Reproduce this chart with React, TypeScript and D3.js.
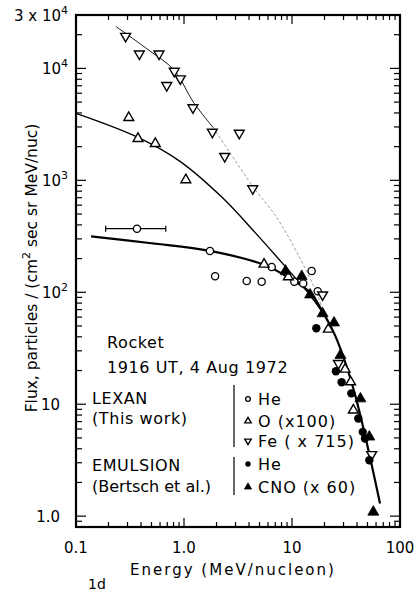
import React from "react";
import * as d3 from "d3";

type Pt = [number, number]; // [energy MeV/nucleon, flux]

// LEXAN (this work)
const heLexan: Pt[] = [
  [0.367, 370], [1.74, 234], [1.94, 139], [3.81, 126], [5.24, 124],
  [6.49, 168], [10.5, 124], [12.7, 120], [15.2, 155], [17.3, 102],
];
const heErrorBar: Pt = [0.188, 0.678]; // energy span of the first He bin
const oLexan: Pt[] = [
  [0.308, 3630], [0.375, 2360], [0.542, 2130], [1.04, 1010], [5.51, 178],
  [9.25, 137], [21.7, 46.7], [31.0, 20.5], [34.9, 15.8], [37.0, 8.84],
];
const feLexan: Pt[] = [
  [0.288, 19400], [0.386, 13500], [0.587, 13500], [0.813, 9460], [0.925, 8090],
  [0.692, 7050], [1.21, 4460], [1.83, 2700], [3.25, 2640], [2.38, 1640],
  [4.33, 844], [19.2, 95], [26.9, 23.2], [54.7, 3.56],
];

// EMULSION (Bertsch et al.)
const heEmulsion: Pt[] = [
  [16.8, 47.7], [25.5, 19.7], [28.8, 15.7], [35.4, 12.5], [41.1, 7.45],
  [45.2, 5.66], [47.4, 4.94], [52.0, 3.16],
];
const cnoEmulsion: Pt[] = [
  [8.71, 155], [12.3, 139], [14.7, 95], [19.2, 64.5], [24.5, 53.4],
  [28.1, 27.4], [43.0, 11.2], [52.0, 5.11], [56.6, 1.09],
];

// hand-drawn curves, nodes
const heCurve: Pt[] = [
  [0.138, 316], [0.5, 274], [1.74, 234], [5.6, 175], [9.5, 133], [14.7, 100],
  [18.9, 69], [25.1, 41], [31.1, 23.7], [38.5, 12], [47.4, 5.3], [65.3, 1.3],
];
const oCurve: Pt[] = [
  [0.1, 3965], [0.375, 2420], [0.918, 1478], [2.25, 705], [4.54, 343],
  [8.61, 171], [14.7, 94.1], [19.4, 64.9],
];
const feCurveSolid: Pt[] = [
  [0.234, 23700], [0.452, 15000], [0.813, 9600], [1.22, 5000], [1.87, 2950],
];
const feCurveDotted: Pt[] = [
  [1.87, 2950], [4.38, 871], [7.2, 467], [11.9, 200], [17.5, 90.8], [19.4, 66],
];

// axis ticks
const xTickValues = [0.1, 1, 10, 100];
const xTickLabels = ["0.1", "1.0", "10", "100"];
const yTickValues = [1, 10, 100, 1000, 10000, 30000];
const yTickBase = ["1.0", "10", "10", "10", "10", "3 x 10"];
const yTickExp = ["", "", "2", "3", "4", "4"];

const legendRows = [
  { sym: "openCircle", label: "He" },
  { sym: "openUp", label: "O (x100)" },
  { sym: "openDown", label: "Fe ( x 715)" },
  { sym: "filledCircle", label: "He" },
  { sym: "filledUp", label: "CNO (x 60)" },
];

const W = 420;
const H = 593;
const FONT = "DejaVu Sans, sans-serif";

const x = d3.scaleLog().domain([0.1, 100]).range([76, 400]);
const y = d3.scaleLog().domain([0.8, 30000]).range([527, 15]);

const tri = d3.symbol().type(d3.symbolTriangle);

function Marker({ kind, cx, cy, small }: { kind: string; cx: number; cy: number; small?: boolean }) {
  const k = small ? 0.65 : 1;
  if (kind === "openCircle")
    return <circle cx={cx} cy={cy} r={3.6 * k} fill="#fff" stroke="#000" strokeWidth={1.3} />;
  if (kind === "filledCircle")
    return <circle cx={cx} cy={cy} r={4.2 * k} fill="#000" />;
  const size = (kind === "filledUp" ? 52 : 42) * k * k;
  const rot = kind === "openDown" ? 180 : 0;
  const filled = kind === "filledUp";
  return (
    <path
      d={tri.size(size)() as string}
      transform={`translate(${cx},${cy}) rotate(${rot})`}
      fill={filled ? "#000" : "#fff"}
      stroke="#000"
      strokeWidth={filled ? 0.8 : 1.4}
    />
  );
}

export default function App() {
  const line = d3
    .line<Pt>()
    .x((d) => x(d[0]))
    .y((d) => y(d[1]))
    .curve(d3.curveCatmullRom.alpha(0.5));

  const [x0, x1] = x.range();
  const [y0, y1] = y.range();

  // decade minor ticks
  const xMinor: number[] = [];
  for (let dec = 0.1; dec < 100; dec *= 10)
    for (let m = 2; m <= 9; m++) xMinor.push(dec * m);
  const yMinor: number[] = [];
  for (let dec = 1; dec < 30000; dec *= 10)
    for (let m = 2; m <= 9; m++) if (dec * m < 30000) yMinor.push(dec * m);
  yMinor.push(0.9);

  const legendY = [399, 421, 441, 464, 487];

  return (
    <svg
      width={W}
      height={H}
      style={{ position: "absolute", left: 0, top: 0, background: "#fff" }}
      fontFamily={FONT}
    >
      <rect width={W} height={H} fill="#fff" />

      {/* ticks */}
      <g stroke="#000" strokeWidth={1.2}>
        {xMinor.map((v, i) => (
          <g key={"xm" + i}>
            <line x1={x(v)} x2={x(v)} y1={y0} y2={y0 - 5} />
            <line x1={x(v)} x2={x(v)} y1={y1} y2={y1 + 5} />
          </g>
        ))}
        {xTickValues.map((v, i) => (
          <g key={"xM" + i}>
            <line x1={x(v)} x2={x(v)} y1={y0} y2={y0 - 9} />
            <line x1={x(v)} x2={x(v)} y1={y1} y2={y1 + 9} />
          </g>
        ))}
        {yMinor.map((v, i) => (
          <g key={"ym" + i}>
            <line x1={x0} x2={x0 + 6} y1={y(v)} y2={y(v)} />
            <line x1={x1} x2={x1 - 6} y1={y(v)} y2={y(v)} />
          </g>
        ))}
        {yTickValues.map((v, i) => (
          <g key={"yM" + i}>
            <line x1={x0} x2={x0 + 10} y1={y(v)} y2={y(v)} />
            <line x1={x1} x2={x1 - 10} y1={y(v)} y2={y(v)} />
          </g>
        ))}
      </g>

      {/* frame */}
      <rect x={x0} y={y1} width={x1 - x0} height={y0 - y1} fill="none" stroke="#000" strokeWidth={2.2} />

      {/* tick labels */}
      {xTickValues.map((v, i) => (
        <text key={"xl" + i} x={x(v)} y={553} textAnchor="middle" fontSize={15}>
          {xTickLabels[i]}
        </text>
      ))}
      {yTickValues.map((v, i) => (
        <text key={"yl" + i} x={yTickExp[i] ? 68 : 60} y={y(v) + 6} textAnchor="end" fontSize={15}>
          {yTickBase[i]}
          {yTickExp[i] && (
            <tspan dy={-7} fontSize={11}>
              {yTickExp[i]}
            </tspan>
          )}
        </text>
      ))}

      {/* axis titles */}
      <text x={233} y={575} textAnchor="middle" fontSize={15} letterSpacing={2}>
        Energy (MeV/nucleon)
      </text>
      <text transform="translate(37,268) rotate(-90)" textAnchor="middle" fontSize={15.5}>
        Flux, particles / (cm
        <tspan dy={-7} fontSize={11}>2</tspan>
        <tspan dy={7}> sec sr MeV/nuc)</tspan>
      </text>
      <text x={88} y={589} fontSize={14}>1d</text>

      {/* curves */}
      <path d={line(feCurveSolid) as string} fill="none" stroke="#000" strokeWidth={0.9} />
      <path d={line(feCurveDotted) as string} fill="none" stroke="#888" strokeWidth={0.8} strokeDasharray="3,2" />
      <path d={line(oCurve) as string} fill="none" stroke="#000" strokeWidth={1.4} />
      <path d={line(heCurve) as string} fill="none" stroke="#000" strokeWidth={2.2} />

      {/* He error bar */}
      <g stroke="#000" strokeWidth={1.2}>
        <line x1={x(heErrorBar[0])} x2={x(heErrorBar[1])} y1={y(heLexan[0][1])} y2={y(heLexan[0][1])} />
        <line x1={x(heErrorBar[0])} x2={x(heErrorBar[0])} y1={y(heLexan[0][1]) - 3} y2={y(heLexan[0][1]) + 3} />
        <line x1={x(heErrorBar[1])} x2={x(heErrorBar[1])} y1={y(heLexan[0][1]) - 3} y2={y(heLexan[0][1]) + 3} />
      </g>

      {/* data */}
      {heLexan.map((d, i) => <Marker key={"he" + i} kind="openCircle" cx={x(d[0])} cy={y(d[1])} />)}
      {oLexan.map((d, i) => <Marker key={"o" + i} kind="openUp" cx={x(d[0])} cy={y(d[1])} />)}
      {feLexan.map((d, i) => <Marker key={"fe" + i} kind="openDown" cx={x(d[0])} cy={y(d[1])} />)}
      {heEmulsion.map((d, i) => <Marker key={"hee" + i} kind="filledCircle" cx={x(d[0])} cy={y(d[1])} />)}
      {cnoEmulsion.map((d, i) => <Marker key={"cno" + i} kind="filledUp" cx={x(d[0])} cy={y(d[1])} />)}

      {/* annotation */}
      <g fontSize={16}>
        <text x={107} y={348} letterSpacing={0.6}>Rocket</text>
        <text x={107} y={373} letterSpacing={0.6}>1916 UT, 4 Aug 1972</text>
        <text x={92} y={404} letterSpacing={0.6}>LEXAN</text>
        <text x={92} y={424} letterSpacing={0.6}>(This work)</text>
        <text x={92} y={471} letterSpacing={0.6}>EMULSION</text>
        <text x={92} y={492}>(Bertsch et al.)</text>
      </g>

      {/* legend */}
      <line x1={234} x2={234} y1={385} y2={447} stroke="#000" strokeWidth={1.2} />
      <line x1={234} x2={234} y1={457} y2={495} stroke="#000" strokeWidth={1.2} />
      {legendRows.map((r, i) => (
        <g key={"lg" + i}>
          <Marker kind={r.sym} cx={248} cy={legendY[i]} small />
          <text x={258} y={legendY[i] + 6} fontSize={16} letterSpacing={1}>
            {r.label}
          </text>
        </g>
      ))}
    </svg>
  );
}
